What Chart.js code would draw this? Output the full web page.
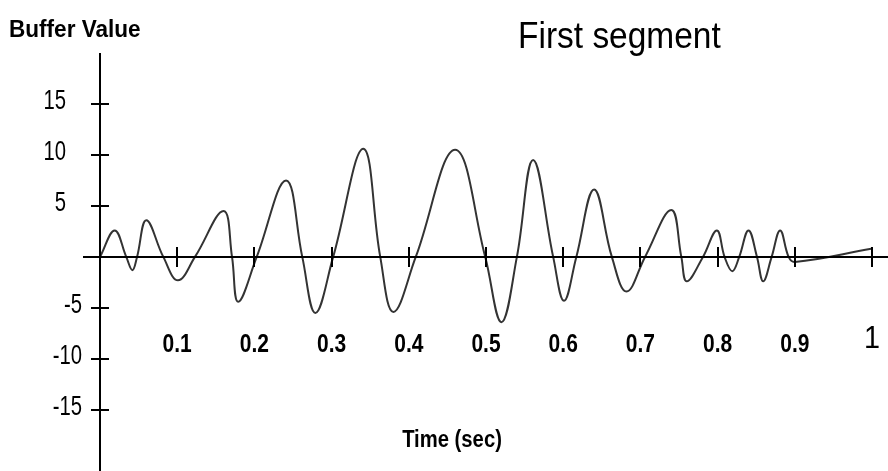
<!DOCTYPE html>
<html>
<head>
<meta charset="utf-8">
<title>First segment</title>
<script src="https://cdn.jsdelivr.net/npm/chart.js@4.4.1/dist/chart.umd.min.js"></script>
<style>
    html, body { margin: 0; padding: 0; background: #fff; }
    #chart { display: block; }
</style>
</head>
<body>
<canvas id="chart" width="888" height="471"></canvas>
<script>
// Values: peaks, troughs and zero crossings of the buffer trace
const timeValues = [
    0, 0.019, 0.034, 0.042, 0.048, 0.060, 0.082, 0.101, 0.123, 0.160,
    0.171, 0.179, 0.203, 0.241, 0.262, 0.279, 0.302, 0.341, 0.363, 0.380,
    0.409, 0.460, 0.499, 0.520, 0.540, 0.561, 0.587, 0.601, 0.617, 0.640,
    0.663, 0.682, 0.706, 0.740, 0.753, 0.760, 0.781, 0.799, 0.809, 0.819,
    0.828, 0.840, 0.851, 0.859, 0.870, 0.881, 0.892, 0.900, 0.999
];
const bufferValues = [
    0, 2.6, 0, -1.3, 0, 3.6, 0, -2.3, 0, 4.5,
    0, -4.4, 0, 7.5, 0, -5.5, 0, 10.6, 0, -5.4,
    0, 10.5, 0, -6.4, 0, 9.5, 0, -4.3, 0, 6.6,
    0, -3.4, 0, 4.6, 0, -2.4, 0, 2.6, 0, -1.4,
    0, 2.6, 0, -2.4, 0, 2.6, 0, -0.5, 0.8
];

const xTickValues = [0.1, 0.2, 0.3, 0.4, 0.5, 0.6, 0.7, 0.8, 0.9, 1];
const xTickLabels = ['0.1', '0.2', '0.3', '0.4', '0.5', '0.6', '0.7', '0.8', '0.9', '1'];
const yTickValues = [15, 10, 5, -5, -10, -15];
const yTickLabels = ['15', '10', '5', '-5', '-10', '-15'];

const titleText = 'First segment';
const yAxisTitle = 'Buffer Value';
const xAxisTitle = 'Time (sec)';

const FONT = '"Liberation Sans", Arial, sans-serif';

// text in the original is squeezed sideways, so draw it with a horizontal scale
function drawText(ctx, text, x, y, font, sx, align) {
    ctx.save();
    ctx.translate(x, y);
    ctx.scale(sx, 1);
    ctx.font = font;
    ctx.textAlign = align;
    ctx.textBaseline = 'alphabetic';
    ctx.fillStyle = '#000';
    ctx.fillText(text, 0, 0);
    ctx.restore();
}

// Axes cross at the origin, ticks cross the axis lines
const crossAxes = {
    id: 'crossAxes',
    afterDatasetsDraw(chart) {
        const ctx = chart.ctx;
        const xs = chart.scales.x;
        const ys = chart.scales.y;
        const area = chart.chartArea;
        const x0 = xs.getPixelForValue(0);
        const y0 = ys.getPixelForValue(0);

        ctx.save();
        ctx.strokeStyle = '#000';
        ctx.lineWidth = 2;
        ctx.beginPath();
        ctx.moveTo(x0, area.top);
        ctx.lineTo(x0, area.bottom);
        ctx.moveTo(x0 - 17, y0);
        ctx.lineTo(area.right, y0);
        ctx.stroke();

        ctx.beginPath();
        yTickValues.forEach(v => {
            const py = Math.round(ys.getPixelForValue(v));
            ctx.moveTo(x0 - 9, py);
            ctx.lineTo(x0 + 9, py);
        });
        xTickValues.forEach(v => {
            const px = Math.round(xs.getPixelForValue(v));
            ctx.moveTo(px, y0 - 10);
            ctx.lineTo(px, y0 + 10);
        });
        ctx.stroke();
        ctx.restore();

        yTickLabels.forEach((label, i) => {
            const py = ys.getPixelForValue(yTickValues[i]);
            const right = yTickValues[i] < 0 ? x0 - 18 : x0 - 34;
            drawText(ctx, label, right, py + 5, '27px ' + FONT, 0.75, 'right');
        });

        xTickLabels.forEach((label, i) => {
            const px = xs.getPixelForValue(xTickValues[i]);
            if (label === '1') {
                drawText(ctx, label, px, 348, '32px ' + FONT, 0.9, 'center');
            } else {
                drawText(ctx, label, px, 352, 'bold 25px ' + FONT, 0.84, 'center');
            }
        });

        drawText(ctx, yAxisTitle, 9, 37, 'bold 24px ' + FONT, 0.94, 'left');
        drawText(ctx, titleText, 518, 48, '36px ' + FONT, 0.93, 'left');
        drawText(ctx, xAxisTitle, 452, 447, 'bold 23px ' + FONT, 0.88, 'center');
    }
};

const points = timeValues.map((t, i) => ({ x: t, y: bufferValues[i] }));

new Chart(document.getElementById('chart'), {
    type: 'line',
    data: {
        datasets: [{
            data: points,
            borderColor: '#333',
            borderWidth: 2,
            pointRadius: 0,
            fill: false,
            tension: 0.4
        }]
    },
    options: {
        responsive: false,
        animation: false,
        devicePixelRatio: 1,
        layout: {
            padding: { left: 100, top: 53, right: 0, bottom: 0 }
        },
        scales: {
            x: { type: 'linear', min: 0, max: 1.0207, display: false },
            y: { type: 'linear', min: -21, max: 20, display: false }
        },
        plugins: {
            legend: { display: false },
            title: { display: false },
            tooltip: { enabled: false }
        }
    },
    plugins: [crossAxes]
});
</script>
</body>
</html>
